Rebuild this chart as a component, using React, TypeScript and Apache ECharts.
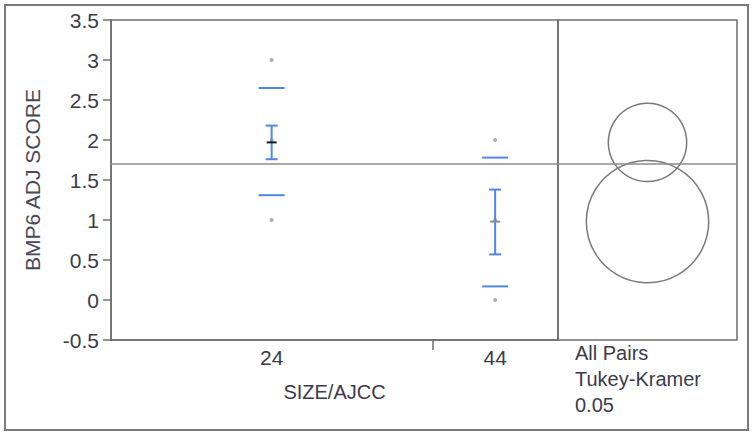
import React, { useEffect, useRef } from "react";
import * as echarts from "echarts";

// ---- data ----
const categories = ["24", "44"];
const groupCounts = [23, 9]; // relative group widths (JMP proportional widths)
const means = [1.97, 0.98];
const ciLow = [1.76, 0.57];
const ciHigh = [2.18, 1.38];
const sdLow = [1.31, 0.17];
const sdHigh = [2.65, 1.78];
const pointValues = [
  [3, 2, 1],
  [2, 1, 0],
];
const grandMean = 1.7;
const circleCenters = [1.97, 0.98];
const circleRadii = [0.49, 0.765];
const yTicks = { min: -0.5, max: 3.5, interval: 0.5 };
const panelLines = ["All Pairs", "Tukey-Kramer", "0.05"];

const FONT = "'Liberation Sans', Arial, sans-serif";
const TEXT = "#3c3a4c";
const FRAME = "#6e6e6e";
const BLUE = "#4e86ee";

export default function App() {
  const ref = useRef<HTMLDivElement>(null);

  useEffect(() => {
    if (!ref.current) return;
    const chart = echarts.init(ref.current, undefined, { renderer: "svg" });

    const total = groupCounts.reduce((a, b) => a + b, 0);
    const centers: number[] = [];
    const bounds: number[] = [];
    let acc = 0;
    groupCounts.forEach((c, i) => {
      centers.push(acc + c / 2);
      acc += c;
      if (i < groupCounts.length - 1) bounds.push(acc);
    });

    const scatterData: number[][] = [];
    pointValues.forEach((vals, i) => {
      vals.forEach((v) => scatterData.push([centers[i], v]));
    });

    const groupData = categories.map((_, i) => [
      centers[i],
      means[i],
      ciLow[i],
      ciHigh[i],
      sdLow[i],
      sdHigh[i],
      i,
    ]);

    const meanColors = ["#1a1a1a", "#8a8a8a"];

    const option: any = {
      animation: false,
      backgroundColor: "#ffffff",
      grid: [
        {
          left: 111,
          top: 20,
          width: 447,
          height: 320,
          show: true,
          borderColor: FRAME,
          borderWidth: 1.5,
          backgroundColor: "transparent",
        },
        {
          left: 558,
          top: 20,
          width: 179,
          height: 320,
          show: true,
          borderColor: FRAME,
          borderWidth: 1.5,
          backgroundColor: "transparent",
        },
      ],
      xAxis: [
        {
          type: "value",
          gridIndex: 0,
          min: 0,
          max: total,
          name: "SIZE/AJCC",
          nameLocation: "middle",
          nameGap: 42,
          nameTextStyle: { fontFamily: FONT, fontSize: 20, color: TEXT },
          axisLine: { show: true, onZero: false, lineStyle: { color: FRAME, width: 1.5 } },
          axisTick: {
            show: true,
            customValues: bounds,
            length: 10,
            lineStyle: { color: FRAME, width: 1.5 },
          },
          axisLabel: {
            show: true,
            customValues: centers,
            margin: 7,
            fontFamily: FONT,
            fontSize: 21,
            color: TEXT,
            formatter: (v: number) => {
              const idx = centers.findIndex((c) => Math.abs(c - v) < 1e-6);
              return idx >= 0 ? categories[idx] : "";
            },
          },
          splitLine: { show: false },
        },
        {
          type: "value",
          gridIndex: 1,
          min: 0,
          max: 1,
          show: false,
        },
      ],
      yAxis: [
        {
          type: "value",
          gridIndex: 0,
          min: yTicks.min,
          max: yTicks.max,
          interval: yTicks.interval,
          name: "BMP6 ADJ SCORE",
          nameLocation: "middle",
          nameGap: 68,
          nameTextStyle: { fontFamily: FONT, fontSize: 21, color: "#4a4858" },
          axisLine: { show: true, onZero: false, lineStyle: { color: FRAME, width: 1.5 } },
          axisTick: { show: true, length: 8, lineStyle: { color: FRAME, width: 1.5 } },
          axisLabel: {
            margin: 12,
            fontFamily: FONT,
            fontSize: 21,
            color: TEXT,
          },
          splitLine: { show: false },
        },
        {
          type: "value",
          gridIndex: 1,
          min: yTicks.min,
          max: yTicks.max,
          interval: yTicks.interval,
          show: false,
        },
      ],
      series: [
        {
          type: "scatter",
          xAxisIndex: 0,
          yAxisIndex: 0,
          data: scatterData,
          symbol: "circle",
          symbolSize: 4,
          itemStyle: { color: "#9a9a9a" },
          z: 2,
          markLine: {
            silent: true,
            symbol: "none",
            label: { show: false },
            lineStyle: { color: "#8c8c8c", width: 1.5, type: "solid" },
            data: [{ yAxis: grandMean }],
          },
        },
        {
          type: "custom",
          xAxisIndex: 0,
          yAxisIndex: 0,
          data: groupData,
          z: 3,
          renderItem: (params: any, api: any) => {
            const x = api.value(0);
            const m = api.coord([x, api.value(1)]);
            const lo = api.coord([x, api.value(2)]);
            const hi = api.coord([x, api.value(3)]);
            const sl = api.coord([x, api.value(4)]);
            const sh = api.coord([x, api.value(5)]);
            const idx = api.value(6);
            const cx = m[0];
            const blue = { stroke: BLUE, lineWidth: 2 };
            return {
              type: "group",
              children: [
                { type: "line", shape: { x1: cx - 13, y1: sl[1], x2: cx + 13, y2: sl[1] }, style: blue },
                { type: "line", shape: { x1: cx - 13, y1: sh[1], x2: cx + 13, y2: sh[1] }, style: blue },
                { type: "line", shape: { x1: cx, y1: lo[1], x2: cx, y2: hi[1] }, style: blue },
                { type: "line", shape: { x1: cx - 6, y1: lo[1], x2: cx + 6, y2: lo[1] }, style: blue },
                { type: "line", shape: { x1: cx - 6, y1: hi[1], x2: cx + 6, y2: hi[1] }, style: blue },
                {
                  type: "line",
                  shape: { x1: cx - 5, y1: m[1], x2: cx + 5, y2: m[1] },
                  style: { stroke: meanColors[idx], lineWidth: 2 },
                },
              ],
            };
          },
        },
        {
          type: "custom",
          xAxisIndex: 1,
          yAxisIndex: 1,
          data: circleCenters.map((c, i) => [0.5, c, circleRadii[i]]),
          z: 3,
          markLine: {
            silent: true,
            symbol: "none",
            label: { show: false },
            lineStyle: { color: "#8c8c8c", width: 1.5, type: "solid" },
            data: [{ yAxis: grandMean }],
          },
          renderItem: (params: any, api: any) => {
            const c = api.coord([api.value(0), api.value(1)]);
            const r = api.size([0, api.value(2)])[1];
            return {
              type: "circle",
              shape: { cx: c[0], cy: c[1], r },
              style: { fill: "none", stroke: "#7a7a7a", lineWidth: 1.5 },
            };
          },
        },
      ],
      graphic: [
        {
          type: "rect",
          shape: { x: 5, y: 5, width: 743, height: 425 },
          style: { fill: "none", stroke: "#7a7a7a", lineWidth: 2 },
          silent: true,
        },
        ...panelLines.map((t, i) => ({
          type: "text",
          left: 575,
          top: 343 + i * 26,
          style: {
            text: t,
            fontFamily: FONT,
            fontSize: 20,
            fill: TEXT,
          },
        })),
      ],
    };

    chart.setOption(option);
    return () => chart.dispose();
  }, []);

  return (
    <div
      ref={ref}
      style={{ position: "fixed", left: 0, top: 0, width: 754, height: 437 }}
    />
  );
}
